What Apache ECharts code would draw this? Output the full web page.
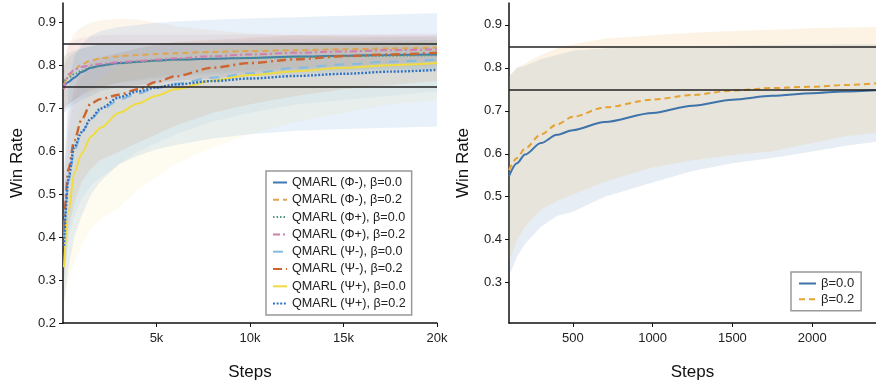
<!DOCTYPE html>
<html><head><meta charset="utf-8">
<script src="https://cdn.jsdelivr.net/npm/echarts@6/dist/echarts.min.js"></script>
<style>html,body{margin:0;padding:0;background:#fff}#c{width:876px;height:386px}</style>
</head><body><div id="c"></div>
<script>
// ---------- Left panel data ----------
const stepsL = [50, 300, 600, 1000, 1500, 2000, 3000, 4000, 5000, 6000, 8000, 10000, 12500, 15000, 17500, 20000];
const namesL = ['QMARL (Φ-), β=0.0','QMARL (Φ-), β=0.2','QMARL (Φ+), β=0.0','QMARL (Φ+), β=0.2','QMARL (Ψ-), β=0.0','QMARL (Ψ-), β=0.2','QMARL (Ψ+), β=0.0','QMARL (Ψ+), β=0.2'];
// means
const phiMinus00 = [0.752,0.762,0.772,0.785,0.795,0.800,0.806,0.809,0.812,0.814,0.816,0.818,0.821,0.823,0.825,0.826];
const phiMinus02 = [0.755,0.775,0.790,0.803,0.812,0.817,0.822,0.825,0.827,0.829,0.832,0.834,0.836,0.838,0.840,0.842];
const phiPlus00  = [0.765,0.772,0.780,0.788,0.796,0.800,0.805,0.808,0.811,0.813,0.816,0.818,0.820,0.822,0.823,0.824];
const phiPlus02  = [0.745,0.780,0.790,0.797,0.801,0.804,0.808,0.811,0.814,0.817,0.822,0.826,0.830,0.833,0.836,0.838];
const psiMinus00 = [0.40,0.53,0.60,0.645,0.675,0.695,0.720,0.735,0.748,0.758,0.772,0.782,0.795,0.803,0.809,0.814];
const psiMinus02 = [0.42,0.56,0.625,0.675,0.712,0.722,0.732,0.745,0.762,0.775,0.795,0.806,0.815,0.822,0.826,0.830];
const psiPlus00  = [0.33,0.46,0.55,0.595,0.635,0.655,0.690,0.712,0.730,0.745,0.765,0.778,0.787,0.795,0.801,0.806];
const psiPlus02  = [0.38,0.54,0.61,0.645,0.677,0.700,0.726,0.740,0.749,0.756,0.764,0.770,0.776,0.781,0.786,0.790];
// bands (lower / upper)
const phiMinus00Lo = [0.69,0.70,0.71,0.72,0.73,0.74,0.75,0.755,0.76,0.765,0.77,0.775,0.78,0.785,0.79,0.79];
const phiMinus00Hi = [0.80,0.82,0.83,0.84,0.845,0.85,0.85,0.85,0.85,0.85,0.85,0.852,0.855,0.857,0.858,0.86];
const phiMinus02Lo = [0.70,0.71,0.72,0.73,0.74,0.75,0.76,0.77,0.775,0.78,0.785,0.79,0.795,0.80,0.805,0.81];
const phiMinus02Hi = [0.82,0.85,0.875,0.89,0.90,0.905,0.91,0.907,0.90,0.892,0.882,0.875,0.871,0.868,0.866,0.865];
const phiPlus00Lo  = [0.70,0.71,0.72,0.735,0.745,0.75,0.76,0.765,0.77,0.775,0.78,0.785,0.788,0.79,0.792,0.793];
const phiPlus00Hi  = [0.82,0.83,0.835,0.84,0.845,0.848,0.85,0.85,0.85,0.85,0.85,0.85,0.852,0.853,0.854,0.855];
const phiPlus02Lo  = [0.69,0.71,0.72,0.73,0.74,0.745,0.75,0.755,0.76,0.765,0.772,0.78,0.787,0.793,0.798,0.80];
const phiPlus02Hi  = [0.80,0.85,0.86,0.865,0.868,0.87,0.872,0.872,0.872,0.872,0.872,0.872,0.872,0.873,0.874,0.875];
const psiMinus00Lo = [0.30,0.40,0.45,0.49,0.52,0.54,0.57,0.60,0.62,0.64,0.67,0.69,0.71,0.72,0.73,0.74];
const psiMinus00Hi = [0.50,0.65,0.72,0.77,0.80,0.81,0.83,0.84,0.845,0.85,0.855,0.86,0.862,0.864,0.866,0.868];
const psiMinus02Lo = [0.30,0.42,0.48,0.53,0.56,0.58,0.60,0.62,0.64,0.66,0.69,0.71,0.73,0.745,0.755,0.765];
const psiMinus02Hi = [0.55,0.68,0.75,0.79,0.81,0.82,0.83,0.84,0.85,0.855,0.86,0.865,0.87,0.87,0.87,0.87];
const psiPlus00Lo  = [0.24,0.30,0.34,0.38,0.42,0.44,0.47,0.51,0.54,0.57,0.61,0.64,0.67,0.69,0.71,0.72];
const psiPlus00Hi  = [0.42,0.56,0.66,0.71,0.75,0.77,0.80,0.815,0.825,0.83,0.84,0.845,0.85,0.852,0.855,0.858];
const psiPlus02Lo  = [0.25,0.33,0.40,0.45,0.50,0.53,0.57,0.59,0.605,0.615,0.63,0.64,0.648,0.652,0.655,0.658];
const psiPlus02Hi  = [0.55,0.75,0.82,0.85,0.87,0.88,0.89,0.895,0.90,0.903,0.907,0.91,0.913,0.916,0.919,0.922];
const xTicksL = [5000, 10000, 15000, 20000];
const yTicksL = [0.2, 0.3, 0.4, 0.5, 0.6, 0.7, 0.8, 0.9];

// ---------- Right panel data ----------
const stepsR = [100, 150, 200, 300, 400, 500, 700, 1000, 1250, 1500, 1750, 2000, 2200, 2400];
const namesR = ['β=0.0', 'β=0.2'];
const beta00 = [0.548,0.578,0.598,0.625,0.644,0.655,0.674,0.695,0.712,0.726,0.735,0.741,0.745,0.748];
const beta02 = [0.562,0.590,0.612,0.645,0.668,0.686,0.708,0.726,0.737,0.747,0.753,0.756,0.760,0.764];
const beta00Lo = [0.315,0.36,0.39,0.43,0.455,0.465,0.50,0.533,0.56,0.578,0.59,0.605,0.618,0.628];
const beta00Hi = [0.78,0.80,0.805,0.82,0.83,0.84,0.845,0.85,0.85,0.852,0.853,0.854,0.855,0.855];
const beta02Lo = [0.35,0.40,0.43,0.47,0.49,0.505,0.535,0.568,0.585,0.597,0.606,0.625,0.64,0.649];
const beta02Hi = [0.78,0.80,0.81,0.83,0.845,0.855,0.868,0.876,0.882,0.886,0.889,0.892,0.894,0.895];
const xTicksR = [500, 1000, 1500, 2000];
const yTicksR = [0.3, 0.4, 0.5, 0.6, 0.7, 0.8, 0.9];
const refLines = [0.85, 0.75];

// ---------- styles ----------
const FONT = '"Liberation Sans", Arial, Helvetica, sans-serif';
const colorsL = ['#3f79b3','#e0a54e','#4f9a7c','#cf7fb0','#86bbe0','#cc6530','#eedc40','#2f72c4'];
const dashL = ['solid',[6,4],[1.5,2],[7,3,2,3],[10,8],[9,4,2,4],'solid',[2,1.6]];
const widthL = [2,2,1.8,2,2,2.4,2,2.4];
const bandOpL = [0.11,0.11,0.11,0.11,0.11,0.11,0.08,0.11];
const meansL = [phiMinus00,phiMinus02,phiPlus00,phiPlus02,psiMinus00,psiMinus02,psiPlus00,psiPlus02];
const losL = [phiMinus00Lo,phiMinus02Lo,phiPlus00Lo,phiPlus02Lo,psiMinus00Lo,psiMinus02Lo,psiPlus00Lo,psiPlus02Lo];
const hisL = [phiMinus00Hi,phiMinus02Hi,phiPlus00Hi,phiPlus02Hi,psiMinus00Hi,psiMinus02Hi,psiPlus00Hi,psiPlus02Hi];
const colorsR = ['#3f73aa', '#e6a232'];

function band(idx, steps, lo, hi, color, op) {
  return {
    type: 'custom', xAxisIndex: idx, yAxisIndex: idx, silent: true, clip: true, z: 1,
    data: steps.map((s, i) => [s, lo[i], hi[i]]),
    encode: { x: 0, y: [1, 2] },
    renderItem: function (params, api) {
      if (params.dataIndex !== 0) return null;
      const top = steps.map((s, i) => api.coord([s, hi[i]]));
      const bot = steps.map((s, i) => api.coord([s, lo[i]])).reverse();
      return { type: 'polygon', shape: { points: top.concat(bot) }, style: { fill: color, opacity: op }, silent: true };
    }
  };
}
function line(idx, name, steps, m, color, type, width, mark) {
  const s = {
    type: 'line', name: name, xAxisIndex: idx, yAxisIndex: idx, symbol: 'none', showSymbol: false,
    smooth: 0.3, smoothMonotone: 'x', z: 3,
    data: steps.map((x, i) => [x, m[i]]),
    lineStyle: { color: color, type: type, width: width },
    itemStyle: { color: color }
  };
  if (mark) {
    s.markLine = { silent: true, symbol: 'none', label: { show: false }, animation: false,
      lineStyle: { color: '#222', width: 1.5, type: 'solid' },
      data: refLines.map(v => ({ yAxis: v })) };
  }
  return s;
}

const axisCommon = {
  type: 'value', splitLine: { show: false },
  axisLine: { show: true, lineStyle: { color: '#111', width: 1.5 } },
  axisTick: { show: true, length: 4, lineStyle: { color: '#111', width: 1 } },
  axisLabel: { fontSize: 13, color: '#222', fontFamily: FONT },
  nameLocation: 'middle',
  nameTextStyle: { fontSize: 17, color: '#111', fontFamily: FONT }
};

const series = [];
for (let i = 0; i < 8; i++) series.push(band(0, stepsL, losL[i], hisL[i], colorsL[i], bandOpL[i]));
series.push(band(1, stepsR, beta00Lo, beta00Hi, colorsR[0], 0.13));
series.push(band(1, stepsR, beta02Lo, beta02Hi, colorsR[1], 0.13));
for (let i = 0; i < 8; i++) series.push(line(0, namesL[i], stepsL, meansL[i], colorsL[i], dashL[i], widthL[i], i === 0));
series.push(line(1, namesR[0], stepsR, beta00, colorsR[0], 'solid', 2, true));
series.push(line(1, namesR[1], stepsR, beta02, colorsR[1], [6, 4], 2, false));

const legendItemStyle = { opacity: 0, borderWidth: 0 };
const option = {
  animation: false,
  textStyle: { fontFamily: FONT },
  grid: [
    { left: 63, top: 3, width: 374, height: 321 },
    { left: 509, top: 3, width: 367, height: 322 }
  ],
  xAxis: [
    Object.assign({}, axisCommon, { gridIndex: 0, min: 0, max: 20000, name: 'Steps', nameGap: 41,
      axisTick: Object.assign({}, axisCommon.axisTick, { customValues: xTicksL }),
      axisLabel: Object.assign({}, axisCommon.axisLabel, { customValues: xTicksL, margin: 9, formatter: v => (v / 1000) + 'k' }) }),
    Object.assign({}, axisCommon, { gridIndex: 1, min: 100, max: 2400, name: 'Steps', nameGap: 41,
      axisTick: Object.assign({}, axisCommon.axisTick, { customValues: xTicksR }),
      axisLabel: Object.assign({}, axisCommon.axisLabel, { customValues: xTicksR, margin: 9, formatter: v => String(v) }) })
  ],
  yAxis: [
    Object.assign({}, axisCommon, { gridIndex: 0, min: 0.2, max: 0.946, name: 'Win Rate', nameGap: 37,
      axisTick: Object.assign({}, axisCommon.axisTick, { customValues: yTicksL }),
      axisLabel: Object.assign({}, axisCommon.axisLabel, { customValues: yTicksL, margin: 7, formatter: v => v.toFixed(1) }) }),
    Object.assign({}, axisCommon, { gridIndex: 1, min: 0.206, max: 0.951, name: 'Win Rate', nameGap: 37,
      axisTick: Object.assign({}, axisCommon.axisTick, { customValues: yTicksR }),
      axisLabel: Object.assign({}, axisCommon.axisLabel, { customValues: yTicksR, margin: 7, formatter: v => v.toFixed(1) }) })
  ],
  legend: [
    { data: namesL, orient: 'vertical', left: 266, top: 171, padding: [5, 6, 5, 6],
      itemWidth: 14, itemHeight: 14, itemGap: 4.3, itemTextGap: 5, itemStyle: legendItemStyle,
      textStyle: { fontSize: 12.6, color: '#222', fontFamily: FONT },
      borderColor: '#999', borderWidth: 1.5, backgroundColor: '#fff', selectedMode: false },
    { data: namesR, orient: 'vertical', left: 791, top: 272, padding: [5, 7, 5, 7],
      itemWidth: 17, itemHeight: 14, itemGap: 2.7, itemTextGap: 4, itemStyle: legendItemStyle,
      textStyle: { fontSize: 13, color: '#222', fontFamily: FONT },
      borderColor: '#999', borderWidth: 1.5, backgroundColor: '#fff', selectedMode: false }
  ],
  series: series
};
const chart = echarts.init(document.getElementById('c'), null, { renderer: 'canvas' });
chart.setOption(option);
</script>
</body></html>
